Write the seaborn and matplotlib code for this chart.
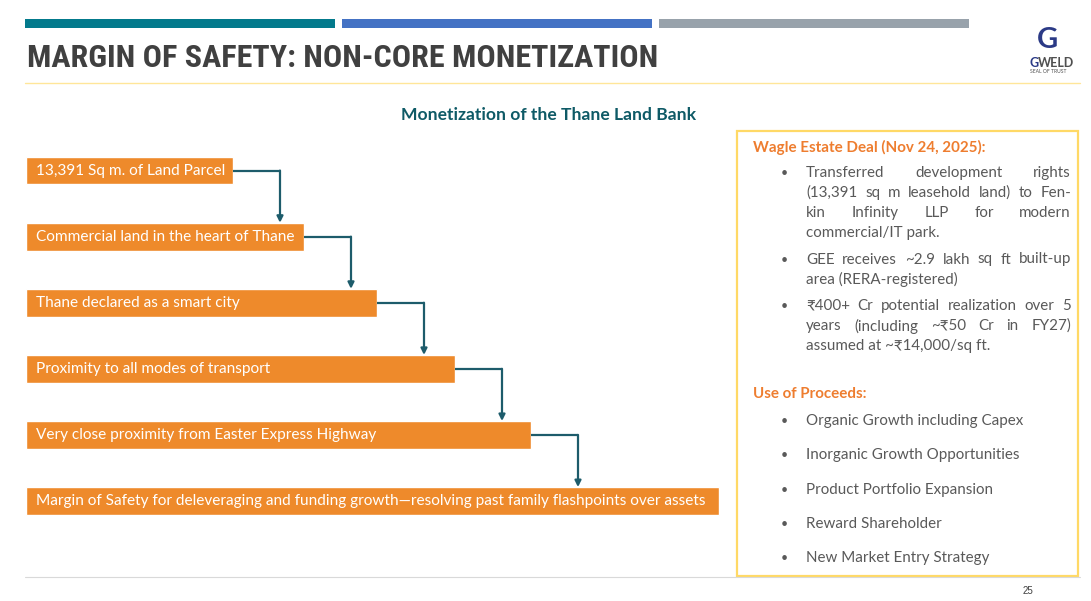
import matplotlib
matplotlib.use('Agg')
import matplotlib.pyplot as plt
from matplotlib import font_manager
from matplotlib.patches import Rectangle
import seaborn as sns

# Datos del diagrama
steps = [
    '13,391 Sq m. of Land Parcel',
    'Commercial land in the heart of Thane',
    'Thane declared as a smart city',
    'Proximity to all modes of transport',
    'Very close proximity from Easter Express Highway',
    'Margin of Safety for deleveraging and funding growth\u2014resolving past family flashpoints over assets',
]
step_widths = [207, 278, 351, 429, 505, 693]

deal_title = 'Wagle Estate Deal (Nov 24, 2025):'
deal_bullets = [
    ['Transferred development rights',
     '(13,391 sq m leasehold land) to Fen-',
     'kin Infinity LLP for modern',
     'commercial/IT park.'],
    ['GEE receives ~2.9 lakh sq ft built-up',
     'area (RERA-registered)'],
    ['\u20b9400+ Cr potential realization over 5',
     'years (including ~\u20b950 Cr in FY27)',
     'assumed at ~\u20b914,000/sq ft.'],
]
proceeds_title = 'Use of Proceeds:'
proceeds = [
    'Organic Growth including Capex',
    'Inorganic Growth Opportunities',
    'Product Portfolio Expansion',
    'Reward Shareholder',
    'New Market Entry Strategy',
]

# Estilo
ORANGE = '#EE8A2B'
ORANGE_TXT = '#EE7D2F'
TEAL = '#1D5C6B'
GRAY_TXT = '#595959'
BODY = ['Lato', 'Noto Sans', 'DejaVu Sans']

sns.set_theme(style='white')
plt.rcParams['font.family'] = BODY

# fuente angosta para el titulo si existe
installed = {f.name for f in font_manager.fontManager.ttflist}
narrow = [n for n in ['Liberation Sans Narrow', 'Roboto Condensed', 'DejaVu Sans Condensed'] if n in installed]
if narrow:
    TITLE_FONT, TITLE_SIZE = narrow[0], 23
else:
    TITLE_FONT, TITLE_SIZE = 'Roboto', 20

W, H = 1091, 601
fig = plt.figure(figsize=(W / 100, H / 100), dpi=100)

# capa de fondo en pixeles
bg = fig.add_axes([0, 0, 1, 1])
bg.set_xlim(0, W)
bg.set_ylim(H, 0)
bg.axis('off')

for x0, c in [(25, '#037A8C'), (342, '#4472C4'), (659, '#98A2AB')]:
    bg.add_patch(Rectangle((x0, 19), 310, 9, color=c, lw=0))

bg.text(27, 58, 'MARGIN OF SAFETY: NON-CORE MONETIZATION', fontsize=TITLE_SIZE, fontweight='bold',
        family=[TITLE_FONT, 'DejaVu Sans'], color='#404040', va='center', ha='left')
bg.plot([25, 1080], [83, 83], color='#FFE699', lw=1)
bg.plot([25, 1080], [577, 577], color='#D9D9D9', lw=0.8)
bg.text(1028, 591, '25', fontsize=7, color='#404040', ha='center', va='center',
        family=['Liberation Sans', 'DejaVu Sans'])

# logo
bg.text(1047, 40, 'G', fontsize=21, fontweight='bold', color='#2B3A86', ha='center', va='center')
bg.text(1030, 63, 'G', fontsize=9, fontweight='bold', color='#2B3A86', ha='left', va='center')
bg.text(1038, 63, 'WELD', fontsize=9, fontweight='bold', color='#505050', ha='left', va='center')
bg.text(1048, 71.5, 'SEAL OF TRUST', fontsize=3.6, color='#505050', ha='center', va='center')

bg.text(549, 115, 'Monetization of the Thane Land Bank', fontsize=12.6, fontweight='bold',
        color='#0E5A66', ha='center', va='center')

# diagrama de flujo con seaborn
left, right, top, bottom = 26, 730, 137.5, 534
ax = fig.add_axes([left / W, 1 - bottom / H, (right - left) / W, (bottom - top) / H])
sns.barplot(x=step_widths, y=steps, orient='h', color=ORANGE, width=0.42,
            saturation=1, ax=ax)
ax.set_xlim(0, right - left)
ax.set_ylim(len(steps) - 0.5, -0.5)
ax.axis('off')

for i, (label, w) in enumerate(zip(steps, step_widths)):
    ax.text(10, i, label, color='white', fontsize=11.1, va='center', ha='left')
    if i < len(steps) - 1:
        xa = w + 47
        ax.plot([w, xa], [i, i], color=TEAL, lw=1.6, solid_capstyle='butt')
        ax.annotate('', xy=(xa, i + 1 - 0.21), xytext=(xa, i),
                    arrowprops=dict(arrowstyle='-|>', color=TEAL, lw=1.6,
                                    shrinkA=0, shrinkB=0, mutation_scale=9))

# cuadro de la derecha
bg.add_patch(Rectangle((737, 131), 341, 445, fill=False, edgecolor='#FFD966', lw=1.6))
renderer = fig.canvas.get_renderer()
TXT = dict(fontsize=10.9, color=GRAY_TXT, va='center', ha='left')


def justified(y, line, x0=806, x1=1071):
    words = line.split(' ')
    arts = [bg.text(0, y, w, **TXT) for w in words]
    widths = [a.get_window_extent(renderer).width for a in arts]
    gap = (x1 - x0 - sum(widths)) / (len(words) - 1)
    x = x0
    for a, wd in zip(arts, widths):
        a.set_x(x)
        x += wd + gap


bg.text(753, 147, deal_title, fontsize=10.9, fontweight='bold', color=ORANGE_TXT, va='center')
y = 173
for para in deal_bullets:
    bg.text(781, y, '\u2022', fontsize=9, color=GRAY_TXT, va='center', ha='left')
    for k, line in enumerate(para):
        if k < len(para) - 1:
            justified(y, line)
        else:
            bg.text(806, y, line, **TXT)
        y += 20
    y += 6.5

bg.text(753, 394, proceeds_title, fontsize=10.9, fontweight='bold', color=ORANGE_TXT, va='center')
for k, item in enumerate(proceeds):
    yy = 421 + k * 34.3
    bg.text(781, yy, '\u2022', fontsize=9, color=GRAY_TXT, va='center', ha='left')
    bg.text(806, yy, item, **TXT)

fig.savefig('out.png', dpi=100)
